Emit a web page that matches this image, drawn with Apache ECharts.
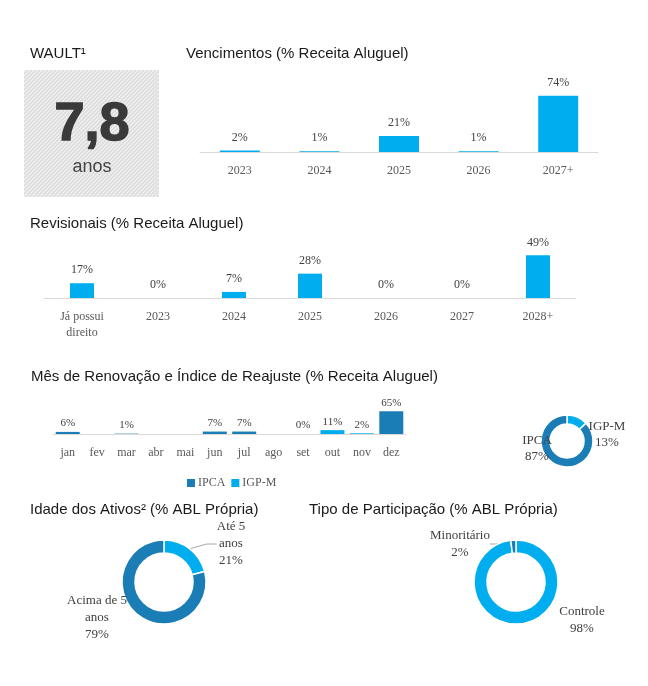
<!DOCTYPE html>
<html><head><meta charset="utf-8">
<script src="https://cdn.jsdelivr.net/npm/echarts@6/dist/echarts.min.js"></script>
<style>html,body{margin:0;padding:0;background:#fff}#c{width:648px;height:686px}</style>
</head><body><div id="c"></div><script>
const waultValue = '7,8';
const waultUnit = 'anos';
const vencCategories = ['2023','2024','2025','2026','2027+'];
const vencValues = [2,1,21,1,74];
const revCategories = ['Já possui\ndireito','2023','2024','2025','2026','2027','2028+'];
const revValues = [17,0,7,28,0,0,49];
const months = ['jan','fev','mar','abr','mai','jun','jul','ago','set','out','nov','dez'];
const ipcaMonthly = [6,null,1,null,null,7,7,null,0,null,null,65];
const igpmMonthly = [null,null,null,null,null,null,null,null,null,11,2,null];
const indexNames = ['IGP-M','IPCA'];
const indexShares = [13,87];
const ageNames = ['Até 5\nanos','Acima de 5\nanos'];
const ageShares = [21,79];
const partNames = ['Controle','Minoritário'];
const partShares = [98,2];

const LIGHT = '#00AEEF', DARK = '#1A7DB5';
const SERIF = 'Liberation Serif', SANS = 'Liberation Sans';
const labelColor = '#404040', axisLabelColor = '#595959', axisColor = '#d9d9d9';

const pc = document.createElement('canvas'); pc.width = 4; pc.height = 4;
const g = pc.getContext('2d');
g.fillStyle = '#dcdcdc'; g.fillRect(0,0,4,4);
g.strokeStyle = '#f3f3f3'; g.lineWidth = 1.2; g.beginPath();
g.moveTo(0,4); g.lineTo(4,0); g.moveTo(-1,1); g.lineTo(1,-1); g.moveTo(3,5); g.lineTo(5,3); g.stroke();

const chart = echarts.init(document.getElementById('c'), null, {renderer:'canvas'});
const tStyle = {fontFamily:SANS, fontSize:15, fontWeight:'normal', color:'#1a1a1a'};
function xAx(gi, data, fs){
  return {type:'category', gridIndex:gi, data:data, axisTick:{show:false},
    axisLine:{lineStyle:{color:axisColor, width:1}},
    axisLabel:{color:axisLabelColor, fontFamily:SERIF, fontSize:fs, margin:11, lineHeight:16, interval:0}};
}
function yAx(gi){ return {type:'value', gridIndex:gi, min:0, max:100, show:false}; }
const barLabel = (fs, dist) => ({show:true, position:'top', distance:dist, fontFamily:SERIF, fontSize:fs, color:labelColor, formatter: p => p.value + '%'});

const indexLabelPos = [{x:607, y:435}, {x:537, y:449}];
const ageLabelPos = [{x:231, y:544}, {x:97, y:618}];
const partLabelPos = [{x:582, y:620}, {x:460, y:544}];
function pieLabelLayout(pos){ return p => ({x:pos[p.dataIndex].x, y:pos[p.dataIndex].y, align:'center', verticalAlign:'middle'}); }
const pieLabel = (lh) => ({show:true, position:'outside', fontFamily:SERIF, fontSize:13, lineHeight:lh, color:labelColor, align:'center',
  formatter: p => p.name + '\n' + p.value + '%'});
function title(text, left, top){ return {text:text, left:left, top:top, padding:0, textStyle:tStyle}; }

chart.setOption({
  animation:false,
  title:[
    title('WAULT¹', 30, 46),
    title('Vencimentos (% Receita Aluguel)', 186, 46),
    title('Revisionais (% Receita Aluguel)', 30, 216),
    title('Mês de Renovação e Índice de Reajuste (% Receita Aluguel)', 31, 369),
    title('Idade dos Ativos² (% ABL Própria)', 30, 502),
    title('Tipo de Participação (% ABL Própria)', 309, 502)
  ],
  graphic:[
    {type:'rect', shape:{x:24, y:70, width:135, height:127}, style:{fill:{image:pc, repeat:'repeat'}}},
    {type:'text', x:92, y:125, style:{text:waultValue, fontFamily:SANS, fontWeight:'bold', fontSize:54, fill:'#3a3a3a', stroke:'#3a3a3a', lineWidth:1.5, align:'center', verticalAlign:'middle'}},
    {type:'text', x:92, y:167, style:{text:waultUnit, fontFamily:SANS, fontSize:18, fill:'#444', align:'center', verticalAlign:'middle'}}
  ],
  legend:{data:['IPCA','IGP-M'], left:182, top:472, itemWidth:8, itemHeight:8, itemGap:6, icon:'rect',
    textStyle:{fontFamily:SERIF, fontSize:12, color:axisLabelColor, padding:[0,0,0,-2]}},
  grid:[
    {left:200, width:398, top:76, height:76},
    {left:44, width:532, top:211, height:87},
    {left:53, width:353, top:399, height:35}
  ],
  xAxis:[xAx(0, vencCategories, 12), xAx(1, revCategories, 12), xAx(2, months, 12)],
  yAxis:[yAx(0), yAx(1), yAx(2)],
  series:[
    {type:'bar', xAxisIndex:0, yAxisIndex:0, data:vencValues, barWidth:40, itemStyle:{color:LIGHT}, label:barLabel(12, 7)},
    {type:'bar', xAxisIndex:1, yAxisIndex:1, data:revValues, barWidth:24, itemStyle:{color:LIGHT}, label:barLabel(12, 7)},
    {type:'bar', name:'IPCA', xAxisIndex:2, yAxisIndex:2, data:ipcaMonthly, barWidth:24, itemStyle:{color:DARK}, label:barLabel(11, 3)},
    {type:'bar', name:'IGP-M', xAxisIndex:2, yAxisIndex:2, data:igpmMonthly, barWidth:24, barGap:'-100%', itemStyle:{color:LIGHT}, label:barLabel(11, 3)},
    {type:'pie', center:[567,441], radius:[17,26], startAngle:90, clockwise:true, avoidLabelOverlap:false, silent:true,
      itemStyle:{borderColor:'#fff', borderWidth:1.5}, label:pieLabel(16), labelLine:{show:false},
      labelLayout:pieLabelLayout(indexLabelPos),
      data:indexNames.map((n,i)=>({name:n, value:indexShares[i], itemStyle:{color: i===0?LIGHT:DARK}}))},
    {type:'pie', center:[164,582], radius:[29,42], startAngle:90, clockwise:true, avoidLabelOverlap:false, silent:true,
      itemStyle:{borderColor:'#fff', borderWidth:1.5}, label:pieLabel(17),
      labelLine:{show:true, length:8, length2:10, lineStyle:{color:'#a6a6a6', width:1}},
      labelLayout:pieLabelLayout(ageLabelPos),
      data:ageNames.map((n,i)=>({name:n, value:ageShares[i], itemStyle:{color: i===0?LIGHT:DARK}, labelLine:{show:i===0}}))},
    {type:'pie', center:[516,582], radius:[29,42], startAngle:90, clockwise:true, avoidLabelOverlap:false, silent:true,
      itemStyle:{borderColor:'#fff', borderWidth:1.5}, label:pieLabel(17),
      labelLine:{show:true, length:8, length2:10, lineStyle:{color:'#a6a6a6', width:1}},
      labelLayout:pieLabelLayout(partLabelPos),
      data:partNames.map((n,i)=>({name:n, value:partShares[i], itemStyle:{color: i===0?LIGHT:DARK}, labelLine:{show:i===1}}))}
  ]
});
</script></body></html>
